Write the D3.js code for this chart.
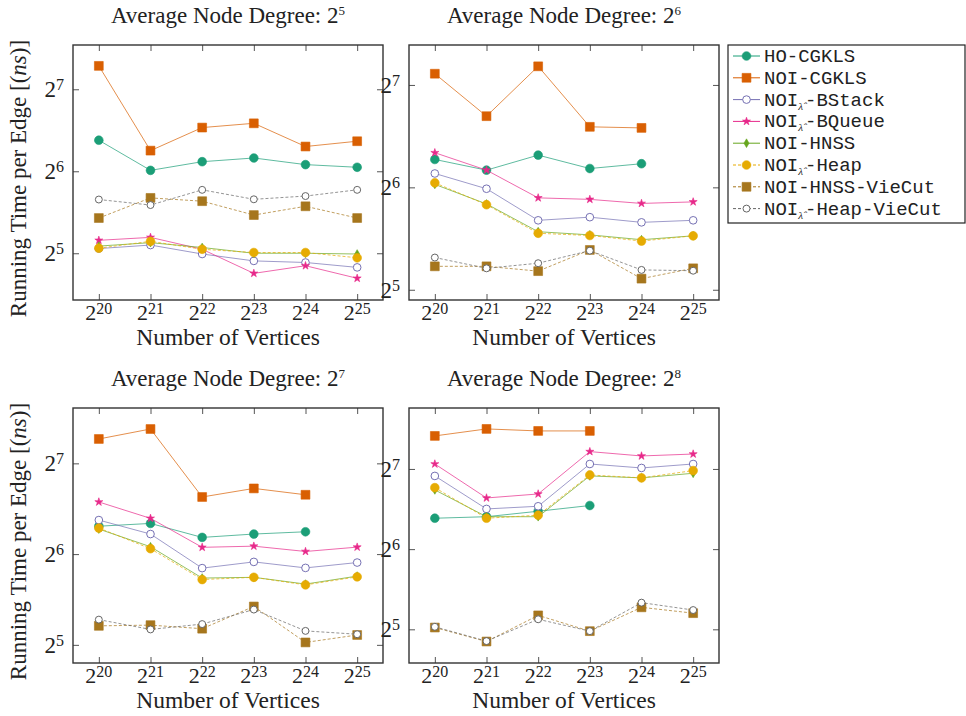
<!DOCTYPE html>
<html>
<head>
<meta charset="utf-8">
<script src="https://cdn.jsdelivr.net/npm/d3@7/dist/d3.min.js"></script>
<style>
    body { margin: 0; background: #fff; }
    svg { display: block; }
</style>
</head>
<body>
<div id="chart"></div>
<script>

var xExponents = [20, 21, 22, 23, 24, 25];
var degreeExponents = [5, 6, 7, 8];
var yTickValues = [32, 64, 128];
var yTickExponents = [5, 6, 7];

var seriesNames = ["HO-CGKLS", "NOI-CGKLS", "NOI\u03bb\u0302-BStack", "NOI\u03bb\u0302-BQueue",
    "NOI-HNSS", "NOI\u03bb\u0302-Heap", "NOI-HNSS-VieCut", "NOI\u03bb\u0302-Heap-VieCut"];

// running time per edge (ns), one row per average node degree 2^5 .. 2^8
var hoCgkls = [
    [83.2, 64.5, 69.4, 71.6, 67.7, 66.2],
    [77.3, 71.9, 79.6, 72.7, 75.1, null],
    [79.2, 80.9, 72.7, 74.6, 75.9, null],
    [83.6, 84.7, 88.8, 93.3, null, null]
];
var noiCgkls = [
    [156.0, 76.2, 92.6, 96.0, 78.9, 82.5],
    [138.1, 103.6, 145.2, 96.4, 95.7, null],
    [154.2, 166.4, 99.0, 105.7, 100.7, null],
    [170.3, 180.9, 177.8, 177.8, null, null]
];
var noiBStack = [
    [33.3, 34.3, 31.8, 30.0, 29.6, 28.4],
    [70.3, 63.4, 51.2, 52.3, 50.5, 51.2],
    [83.0, 74.6, 57.5, 60.3, 57.6, 60.0],
    [120.5, 90.6, 92.7, 133.6, 129.1, 133.6]
];
var noiBQueue = [
    [35.7, 36.6, 33.1, 27.0, 28.8, 25.9],
    [80.9, 71.9, 59.6, 59.0, 57.4, 58.0],
    [95.3, 84.1, 67.4, 68.0, 65.3, 67.5],
    [133.6, 99.6, 103.1, 148.7, 143.2, 145.6]
];
var noiHnss = [
    [34.0, 35.0, 33.6, 32.0, 32.0, 31.8],
    [65.3, 57.2, 47.4, 46.4, 44.9, 46.1],
    [77.5, 67.7, 53.3, 53.6, 50.9, 54.1],
    [106.8, 84.7, 84.7, 120.5, 118.5, 123.3]
];
var noiHeap = [
    [33.4, 35.4, 33.1, 32.2, 32.2, 30.8],
    [66.0, 56.9, 46.9, 46.2, 44.5, 46.1],
    [78.1, 66.7, 52.7, 53.6, 50.6, 53.8],
    [108.9, 83.6, 85.8, 121.5, 118.5, 126.2]
];
var noiHnssVieCut = [
    [43.1, 51.1, 49.7, 44.2, 47.6, 43.1],
    [37.5, 37.5, 36.3, 41.9, 34.5, 37.0],
    [37.0, 37.2, 36.2, 42.9, 32.6, 34.5],
    [32.5, 28.8, 36.1, 31.5, 38.7, 36.8]
];
var noiHeapVieCut = [
    [50.4, 48.1, 54.7, 50.5, 51.9, 54.7],
    [39.8, 37.0, 38.3, 41.7, 36.6, 36.4],
    [38.8, 36.0, 37.5, 41.9, 35.6, 34.7],
    [32.7, 28.9, 34.9, 31.5, 40.3, 37.8]
];

var allSeries = [hoCgkls, noiCgkls, noiBStack, noiBQueue, noiHnss, noiHeap, noiHnssVieCut, noiHeapVieCut];

// log2 extent of every panel's y axis
var yExtents = [[4.43, 7.54], [4.90, 7.39], [4.80, 7.61], [4.58, 7.76]];

var colors = ["#1b9e77", "#d95f02", "#7570b3", "#e7298a", "#66a61e", "#e6ab02", "#a6761d", "#666666"];
var symbols = [d3.symbolCircle, d3.symbolSquare, d3.symbolCircle, d3.symbolStar,
    d3.symbolDiamond, d3.symbolCircle, d3.symbolSquare, d3.symbolCircle];
var symbolSizes = [60, 78, 46, 20, 22, 60, 78, 38];
var hollow = [false, false, true, false, false, false, false, true];
var dashed = [false, false, false, false, false, true, true, true];

var serif = "'Liberation Serif', 'DejaVu Serif', serif";
var mono = "'Liberation Mono', 'DejaVu Sans Mono', monospace";

var width = 310,
    height = 255;

var svg = d3.select("#chart").append("svg")
    .attr("width", 966)
    .attr("height", 716);

function addPower(sel, base, exp, supSize, supDy) {
    sel.append("tspan").text(base);
    sel.append("tspan").attr("font-size", supSize).attr("dy", supDy).text(exp);
}

function drawMarker(g, i, px, py) {
    g.append("path")
        .attr("transform", "translate(" + px + "," + py + ")")
        .attr("d", d3.symbol().type(symbols[i]).size(symbolSizes[i])())
        .style("fill", hollow[i] ? "#fff" : colors[i])
        .style("stroke", colors[i])
        .style("stroke-width", hollow[i] ? 1 : 0.6);
}

degreeExponents.forEach(function (deg, p) {

    var left = 73 + (p % 2) * 336,
        top = 45 + Math.floor(p / 2) * 363;

    var g = svg.append("g")
        .attr("transform", "translate(" + left + "," + top + ")");

    var x = d3.scaleLog().base(2)
        .domain([Math.pow(2, 19.5), Math.pow(2, 25.5)])
        .range([0, width]);

    var y = d3.scaleLog().base(2)
        .domain([Math.pow(2, yExtents[p][0]), Math.pow(2, yExtents[p][1])])
        .range([height, 0]);

    var xValues = xExponents.map(function (e) { return Math.pow(2, e); });

    g.append("g").attr("transform", "translate(0," + height + ")")
        .call(d3.axisBottom(x).tickValues(xValues).tickSize(-6).tickFormat(""));
    g.append("g")
        .call(d3.axisTop(x).tickValues(xValues).tickSize(-6).tickFormat(""));
    g.append("g")
        .call(d3.axisLeft(y).tickValues(yTickValues).tickSize(-6).tickFormat(""));
    g.append("g").attr("transform", "translate(" + width + ",0)")
        .call(d3.axisRight(y).tickValues(yTickValues).tickSize(-6).tickFormat(""));
    g.selectAll(".domain").remove();
    g.selectAll(".tick line").style("stroke", "#555").style("stroke-width", 1);

    // series
    allSeries.forEach(function (series, i) {
        var pts = series[p].map(function (v, k) {
            return {x: xValues[k], v: v};
        }).filter(function (d) { return d.v != null; });

        var line = d3.line()
            .x(function (d) { return x(d.x); })
            .y(function (d) { return y(d.v); });

        g.append("path")
            .datum(pts)
            .attr("d", line)
            .style("fill", "none")
            .style("stroke", colors[i])
            .style("stroke-width", 1)
            .style("stroke-opacity", 0.7)
            .style("stroke-dasharray", dashed[i] ? "3,2" : null);

        pts.forEach(function (d) {
            drawMarker(g, i, x(d.x), y(d.v));
        });
    });

    g.append("rect")
        .attr("width", width)
        .attr("height", height)
        .style("fill", "none")
        .style("stroke", "#333")
        .style("stroke-width", 1.4);

    // tick labels
    g.selectAll(".xlab").data(xExponents).enter()
        .append("text")
        .attr("class", "xlab")
        .attr("x", function (e) { return x(Math.pow(2, e)); })
        .attr("y", height + 20)
        .attr("text-anchor", "middle")
        .style("font-family", serif)
        .style("font-size", "22px")
        .style("fill", "#222")
        .each(function (e) { addPower(d3.select(this), "2", e, 16, -6); });

    g.selectAll(".ylab").data(yTickExponents).enter()
        .append("text")
        .attr("class", "ylab")
        .attr("x", -9)
        .attr("y", function (e) { return y(Math.pow(2, e)) + 8; })
        .attr("text-anchor", "end")
        .style("font-family", serif)
        .style("font-size", "23px")
        .style("fill", "#222")
        .each(function (e) { addPower(d3.select(this), "2", e, 16, -7); });

    // titles
    g.append("text")
        .attr("x", width / 2)
        .attr("y", -22)
        .attr("text-anchor", "middle")
        .style("font-family", serif)
        .style("font-size", "23px")
        .style("fill", "#222")
        .call(function (t) { addPower(t, "Average Node Degree: 2", deg, 13, -8); });

    g.append("text")
        .attr("x", width / 2)
        .attr("y", height + 45)
        .attr("text-anchor", "middle")
        .style("font-family", serif)
        .style("font-size", "23.5px")
        .style("fill", "#222")
        .text("Number of Vertices");

    if (p % 2 == 0) {
        var yt = g.append("text")
            .attr("transform", "translate(" + (-47) + "," + (height / 2 + 6) + ") rotate(-90)")
            .attr("text-anchor", "middle")
            .style("font-family", serif)
            .style("font-size", "23px")
            .style("fill", "#222");
        yt.append("tspan").text("Running Time per Edge [(");
        yt.append("tspan").style("font-style", "italic").text("ns");
        yt.append("tspan").text(")]");
    }
});

// legend
var legend = svg.append("g").attr("transform", "translate(728,45)");

legend.append("rect")
    .attr("width", 237)
    .attr("height", 178)
    .style("fill", "#fff")
    .style("stroke", "#222")
    .style("stroke-width", 1.2);

seriesNames.forEach(function (name, i) {
    var ry = 11 + i * 21.8;

    legend.append("line")
        .attr("x1", 5).attr("x2", 32)
        .attr("y1", ry).attr("y2", ry)
        .style("stroke", colors[i])
        .style("stroke-width", 1)
        .style("stroke-dasharray", dashed[i] ? "3,2" : null);

    drawMarker(legend, i, 18.5, ry);

    var t = legend.append("text")
        .attr("x", 36)
        .attr("y", ry + 6)
        .style("font-family", mono)
        .style("font-size", "19px")
        .style("fill", "#222");

    var parts = name.split("\u03bb\u0302");
    if (parts.length == 2) {
        t.append("tspan").text(parts[0]);
        t.append("tspan")
            .attr("dy", 4)
            .style("font-family", serif)
            .style("font-style", "italic")
            .style("font-size", "11px")
            .text("\u03bb\u0302");
        t.append("tspan").attr("dy", -4).attr("dx", 2).text(parts[1]);
    } else {
        t.text(name);
    }
});

</script>
</body>
</html>
